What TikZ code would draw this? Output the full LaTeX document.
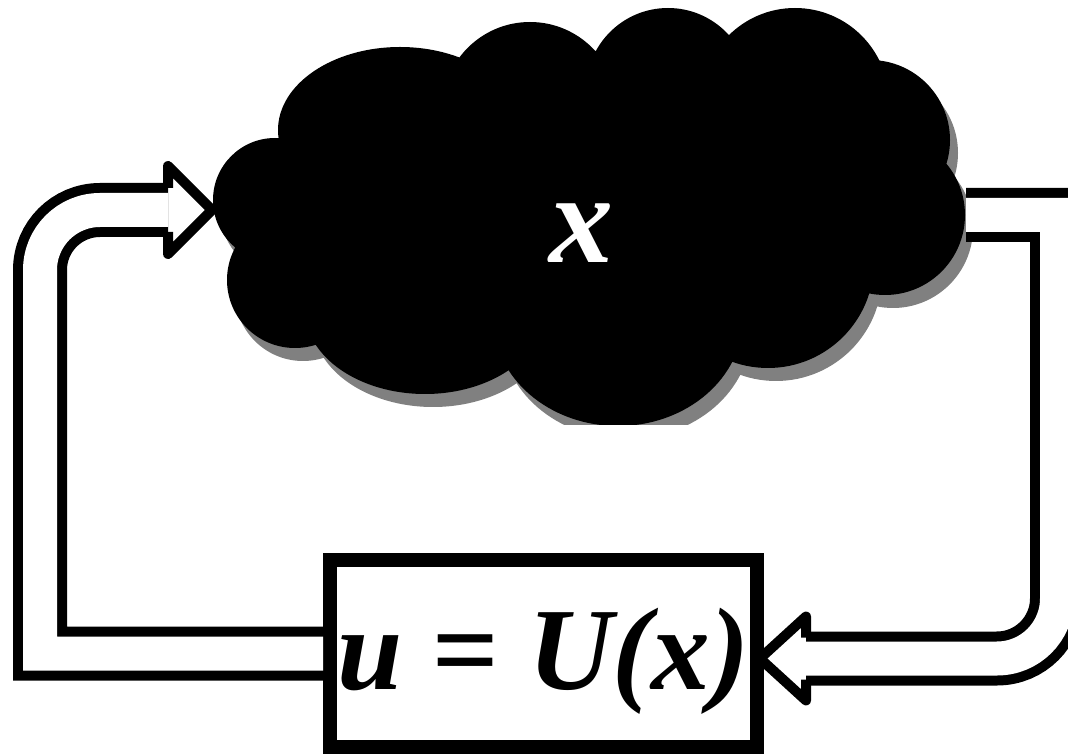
\documentclass[tikz,border=0pt]{standalone}
\usepackage{fontspec}
\setmainfont{Liberation Serif}
\usetikzlibrary{calc}
\definecolor{cloudshade}{gray}{0.5}
\newcommand\cloudlobes{(275,200) circle[radius=62]
  (400,130) ellipse[x radius=122,y radius=83]
  (530,110) circle[radius=88] (668,90) circle[radius=82]
  (795,102) circle[radius=94] (870,140) circle[radius=80]
  (885,215) circle[radius=80] (768,262) circle[radius=106]
  (618,318) ellipse[x radius=125,y radius=108]
  (425,310) ellipse[x radius=120,y radius=84]
  (295,280) circle[radius=68] (600,230) ellipse[x radius=300,y radius=110]}

\begin{document}
\begin{tikzpicture}[x=0.75pt,y=-0.75pt,
    pipe/.style={line width=7.5pt,double=white,double distance=25.5pt},
    head/.style={line width=7.5pt,line join=round},
    big/.style={font=\fontsize{88}{88}\selectfont\bfseries\itshape}]
  \useasboundingbox (0,0) rectangle (1068,755);
  \clip (0,0) rectangle (1068,755);
  \begin{scope}
    \clip (0,0) rectangle (1068,425);
    \fill[cloudshade,shift={(8,13)}] \cloudlobes;
    \fill[black] \cloudlobes;
  \end{scope}
  \node[big,font=\fontsize{96}{96}\selectfont\bfseries\itshape,text=white] (plant) at (581,233) {x};
  \coordinate (inL) at (212,210);
  \coordinate (outR) at (966,215);
  \node[draw,line width=10.5pt,fill=white,inner sep=0pt,text height=64pt,text depth=10pt,
    minimum width=320.25pt,minimum height=140.25pt,big] (ctrl) at (543.5,653.5) {u = U(x)};
  \coordinate (rin) at ($(ctrl.east)+(-4,5)$);
  \draw[pipe] (ctrl.west) -| (40,400) [rounded corners=45pt] |- ($(inL)+(-44,0)$);
  \draw[head] ($(inL)+(-44,-22)$) -- ++(0,-22) -- (inL) -- ++(-44,44) -- ++(0,-22);
  \draw[pipe] (outR) -| (1057,400) [rounded corners=45pt] |- ($(rin)+(46,0)$);
  \draw[head] ($(rin)+(46,-21)$) -- ++(0,-21) -- (rin) -- ++(46,42) -- ++(0,-21);
\end{tikzpicture}
\end{document}
